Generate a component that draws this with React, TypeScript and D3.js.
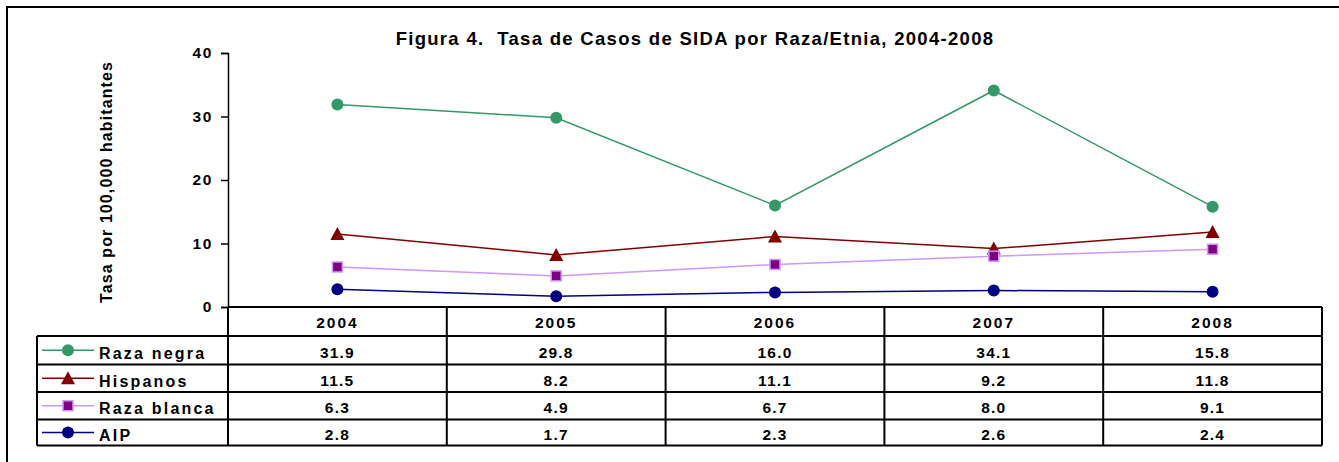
import React, { useEffect, useRef } from 'react';
import * as d3 from 'd3';

const years = ['2004', '2005', '2006', '2007', '2008'];
const seriesNames = ['Raza negra', 'Hispanos', 'Raza blanca', 'AIP'];
const razaNegra = [31.9, 29.8, 16.0, 34.1, 15.8];
const hispanos = [11.5, 8.2, 11.1, 9.2, 11.8];
const razaBlanca = [6.3, 4.9, 6.7, 8.0, 9.1];
const aip = [2.8, 1.7, 2.3, 2.6, 2.4];
const yTicks = [0, 10, 20, 30, 40];

const App = () => {
  const svgRef = useRef<SVGSVGElement>(null);

  useEffect(() => {
    const W = 1339;
    const H = 462;
    const left = 228;
    const right = 1322;
    const top = 53;
    const bottom = 307;
    const rowH = [29, 28.5, 27.5, 27.5, 26];
    const tableLeft = 37;
    const font = 'Liberation Sans, Arial, sans-serif';

    const series = [
      { name: seriesNames[0], values: razaNegra, line: '#339966', fill: '#339966', stroke: 'none', marker: 'circle' },
      { name: seriesNames[1], values: hispanos, line: '#800000', fill: '#800000', stroke: 'none', marker: 'triangle' },
      { name: seriesNames[2], values: razaBlanca, line: '#CC99FF', fill: '#800080', stroke: '#CC99FF', marker: 'square' },
      { name: seriesNames[3], values: aip, line: '#000080', fill: '#000080', stroke: 'none', marker: 'circle' },
    ];

    const svgEl = d3.select(svgRef.current);
    svgEl.selectAll('*').remove();
    const svg = svgEl.attr('width', W).attr('height', H);

    svg.append('rect').attr('width', W).attr('height', H).attr('fill', '#fff');

    // outer frame
    svg.append('rect')
      .attr('x', 7).attr('y', 7).attr('width', W + 20).attr('height', H + 20)
      .attr('fill', 'none').attr('stroke', '#000').attr('stroke-width', 2);

    const x = d3.scaleBand().domain(years).range([left, right]);
    const y = d3.scaleLinear().domain([0, 40]).range([bottom, top]);

    // title
    svg.append('text')
      .attr('x', 695).attr('y', 45)
      .attr('text-anchor', 'middle')
      .style('white-space', 'pre')
      .style('font-family', font)
      .style('font-size', '18.5px').style('font-weight', 'bold')
      .style('letter-spacing', '1.3px')
      .text('Figura 4.  Tasa de Casos de SIDA por Raza/Etnia, 2004-2008');

    // y axis
    const yAxis = svg.append('g')
      .attr('transform', `translate(${left},0)`)
      .call(d3.axisLeft(y).tickValues(yTicks).tickSize(7).tickPadding(8).tickFormat(d3.format('d')));
    yAxis.select('.domain').attr('stroke', '#000').attr('stroke-width', 1.5);
    yAxis.selectAll('line').attr('stroke', '#000').attr('stroke-width', 1.5);
    yAxis.selectAll('text')
      .style('font-family', font)
      .style('font-size', '15.5px').style('font-weight', 'bold')
      .style('letter-spacing', '1.6px').attr('fill', '#000');

    svg.append('text')
      .attr('transform', `translate(112,${(top + bottom) / 2 + 2}) rotate(-90)`)
      .attr('text-anchor', 'middle')
      .style('font-family', font)
      .style('font-size', '16px').style('font-weight', 'bold')
      .style('letter-spacing', '1.1px')
      .text('Tasa por 100,000 habitantes');

    // lines
    const lineGen = d3.line<number>()
      .x((_, i) => x(years[i])! + x.bandwidth() / 2)
      .y(d => y(d));

    const drawMarker = (g: any, s: any, cx: number, cy: number) => {
      if (s.marker === 'circle') {
        g.append('circle').attr('cx', cx).attr('cy', cy).attr('r', 6).attr('fill', s.fill);
      } else if (s.marker === 'triangle') {
        g.append('path')
          .attr('d', `M${cx},${cy - 7}L${cx + 7},${cy + 6}L${cx - 7},${cy + 6}Z`)
          .attr('fill', s.fill);
      } else {
        g.append('rect')
          .attr('x', cx - 5).attr('y', cy - 5).attr('width', 10).attr('height', 10)
          .attr('fill', s.fill).attr('stroke', s.stroke).attr('stroke-width', 1.5);
      }
    };

    const plot = svg.append('g');
    series.forEach(s => {
      plot.append('path')
        .attr('d', lineGen(s.values))
        .attr('fill', 'none').attr('stroke', s.line).attr('stroke-width', 1.5);
      s.values.forEach((v, i) => {
        drawMarker(plot, s, x(years[i])! + x.bandwidth() / 2, y(v));
      });
    });

    // data table
    const tbl = svg.append('g');
    const rowY: number[] = [bottom];
    rowH.forEach(h => rowY.push(rowY[rowY.length - 1] + h));
    const tableBottom = rowY[rowY.length - 1];
    const lineStyle = (sel: any) => sel.attr('stroke', '#000').attr('stroke-width', 2);

    // horizontal lines
    tbl.append('line').attr('x1', left).attr('x2', right).attr('y1', bottom).attr('y2', bottom).call(lineStyle);
    for (let r = 1; r < rowY.length; r++) {
      tbl.append('line').attr('x1', tableLeft).attr('x2', right)
        .attr('y1', rowY[r]).attr('y2', rowY[r]).call(lineStyle);
    }
    // vertical lines
    tbl.append('line').attr('x1', tableLeft).attr('x2', tableLeft).attr('y1', rowY[1]).attr('y2', tableBottom).call(lineStyle);
    years.forEach(yr => {
      tbl.append('line').attr('x1', x(yr)!).attr('x2', x(yr)!).attr('y1', bottom).attr('y2', tableBottom).call(lineStyle);
    });
    tbl.append('line').attr('x1', right).attr('x2', right).attr('y1', bottom).attr('y2', tableBottom).call(lineStyle);

    const txt = (sel: any) => sel
      .style('font-family', font)
      .style('font-size', '15.5px').style('font-weight', 'bold')
      .style('letter-spacing', '1.2px').attr('fill', '#000');

    years.forEach(yr => {
      tbl.append('text')
        .attr('x', x(yr)! + x.bandwidth() / 2).attr('y', rowY[0] + rowH[0] / 2 + 6)
        .attr('text-anchor', 'middle').call(txt)
        .style('letter-spacing', '2px').text(yr);
    });

    series.forEach((s, r) => {
      const cy = (rowY[r + 1] + rowY[r + 2]) / 2;
      tbl.append('line').attr('x1', 42).attr('x2', 94).attr('y1', cy).attr('y2', cy)
        .attr('stroke', s.line).attr('stroke-width', 1.5);
      drawMarker(tbl, s, 68, cy);
      tbl.append('text').attr('x', 99).attr('y', cy + 8.5).call(txt)
        .style('font-size', '16px')
        .style('letter-spacing', '2.2px').text(s.name);
      s.values.forEach((v, i) => {
        tbl.append('text')
          .attr('x', x(years[i])! + x.bandwidth() / 2).attr('y', cy + 7.5)
          .attr('text-anchor', 'middle').call(txt).text(v.toFixed(1));
      });
    });
  }, []);

  return <svg ref={svgRef} style={{ position: 'absolute', left: 0, top: 0 }}></svg>;
};

export default App;
